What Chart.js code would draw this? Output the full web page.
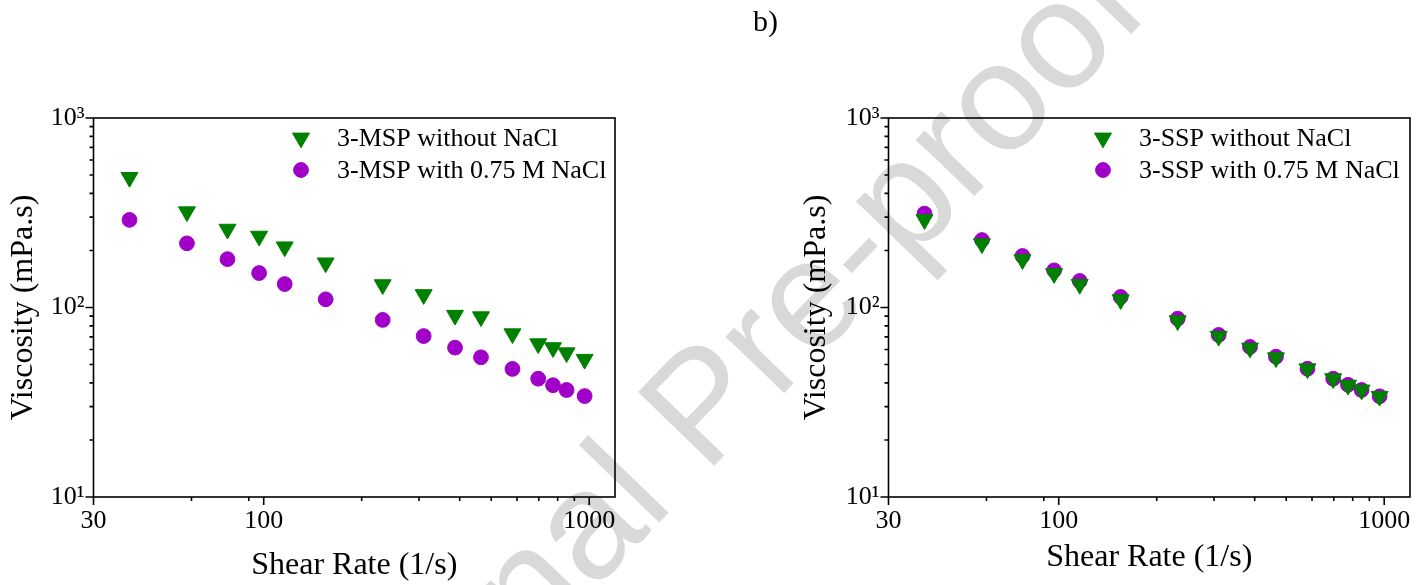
<!DOCTYPE html>
<html>
<head>
<meta charset="utf-8">
<title>Viscosity vs shear rate</title>
<script src="https://cdn.jsdelivr.net/npm/chart.js@4.4.0/dist/chart.umd.min.js"></script>
<style>
  html, body { margin: 0; padding: 0; background: #fff; }
  #page { position: relative; width: 1424px; height: 585px; overflow: hidden; }
  .stamp {
    position: absolute; left: 700px; top: 404px;
    transform: translate(-50%, -50%) rotate(-46deg);
    font: 154px 'Liberation Sans', Arial, sans-serif;
    color: #d9d9d9; white-space: nowrap; line-height: 1; z-index: 0;
  }
  .panel-tag {
    position: absolute; left: 753px; top: 6px;
    font: 30px 'Liberation Serif', 'Times New Roman', serif;
    line-height: 1; z-index: 2;
  }
  .panel { position: absolute; top: 0; width: 712px; height: 585px; z-index: 1; }
</style>
</head>
<body>
<div id="page">
  <div class="stamp">Journal Pre-proof</div>
  <div class="panel-tag">b)</div>
  <div class="panel" style="left:0"><canvas id="chartMSP" width="712" height="585"></canvas></div>
  <div class="panel" style="left:712px"><canvas id="chartSSP" width="712" height="585"></canvas></div>
</div>
<script>
// ── Data ──────────────────────────────────────────────
const SHEAR_RATE  = [38.7, 58.1, 77.4, 96.8, 116, 155, 232, 310, 387, 465, 581, 697, 774, 852, 968];

const MSP_NO_SALT = [486, 320, 259, 238, 209, 172, 132, 117, 91, 89.4, 72.7, 64.4, 61.4, 57.7, 53.3];
const MSP_SALT    = [290, 218, 180, 152, 133, 110.5, 86, 70.7, 61.4, 54.6, 47.4, 42.1, 38.9, 36.7, 34.1];

const SSP_NO_SALT = [291, 217, 179, 151, 132.5, 110, 85.2, 70.5, 61.1, 54.3, 47.5, 42.1, 38.9, 36.7, 34];
const SSP_SALT    = [313, 227, 187, 157, 138, 113.6, 87.3, 71.6, 61.9, 55, 47.5, 42.1, 39.1, 36.7, 34];

const X_TICKS   = [30, 60, 90, 100, 200, 300, 400, 500, 600, 700, 800, 900, 1000];
const X_LABELED = [30, 100, 1000];
const Y_TICKS   = [10, 20, 30, 40, 50, 60, 70, 80, 90, 100, 200, 300, 400, 500, 600, 700, 800, 900, 1000];
const Y_LABELS  = { 10: '10¹', 100: '10²', 1000: '10³' };

// ── Style ─────────────────────────────────────────────
const SERIF  = "'Liberation Serif', 'Times New Roman', serif";
const GREEN  = '#008000';
const PURPLE = '#a000c8';

Chart.defaults.font.family = SERIF;
Chart.defaults.color = '#000';

const toPts = (ys) => ys.map((v, i) => ({ x: SHEAR_RATE[i], y: v }));

// ── Plugins ───────────────────────────────────────────
// frame + outward tick marks (long on decades, short on the rest)
const frameTicks = {
  id: 'frameTicks',
  beforeDatasetsDraw(chart) {
    const { ctx, chartArea: a, scales: { x, y } } = chart;
    ctx.save();
    ctx.strokeStyle = '#000';
    ctx.lineWidth = 1.6;
    ctx.beginPath();
    x.ticks.forEach(t => {
      const px = x.getPixelForValue(t.value);
      const len = X_LABELED.includes(t.value) ? 8 : 4;
      ctx.moveTo(px, a.bottom);
      ctx.lineTo(px, a.bottom + len);
    });
    y.ticks.forEach(t => {
      const py = y.getPixelForValue(t.value);
      const len = Y_LABELS[t.value] ? 8 : 4;
      ctx.moveTo(a.left, py);
      ctx.lineTo(a.left - len, py);
    });
    ctx.stroke();
    ctx.strokeRect(a.left, a.top, a.right - a.left, a.bottom - a.top);
    ctx.restore();
  }
};

// legend drawn inside the plot box, top right
const boxLegend = {
  id: 'boxLegend',
  afterDatasetsDraw(chart, args, opts) {
    const ctx = chart.ctx;
    ctx.save();
    chart.data.datasets.forEach((ds, i) => {
      const yy = opts.rows[i];
      ctx.fillStyle = ds.backgroundColor;
      ctx.strokeStyle = ds.borderColor;
      ctx.lineWidth = ds.borderWidth;
      Chart.helpers.drawPoint(ctx, {
        pointStyle: ds.pointStyle,
        radius: ds.pointRadius,
        rotation: ds.pointRotation || 0,
        borderWidth: ds.borderWidth
      }, opts.markerX, yy);
      ctx.fillStyle = '#000';
      ctx.font = '26px ' + SERIF;
      ctx.textBaseline = 'middle';
      ctx.textAlign = 'left';
      ctx.fillText(ds.label, opts.textX, yy + 1);
    });
    ctx.restore();
  }
};

// ── Chart builder ─────────────────────────────────────
function buildPanel(canvasId, name, noSalt, withSalt, box) {
  const ctx = document.getElementById(canvasId).getContext('2d');
  return new Chart(ctx, {
    type: 'scatter',
    data: {
      datasets: [
        {
          label: name + ' without NaCl',
          data: toPts(noSalt),
          pointStyle: 'triangle',
          pointRotation: 180,
          pointRadius: 9.8,
          backgroundColor: GREEN,
          borderColor: GREEN,
          borderWidth: 1
        },
        {
          label: name + ' with 0.75 M NaCl',
          data: toPts(withSalt),
          pointStyle: 'circle',
          pointRadius: 7.4,
          backgroundColor: PURPLE,
          borderColor: PURPLE,
          borderWidth: 1
        }
      ]
    },
    options: {
      responsive: false,
      animation: false,
      devicePixelRatio: 1,
      layout: { padding: { top: 118, right: box.padRight, left: 0, bottom: 0 } },
      plugins: {
        legend:  { display: false },
        tooltip: { enabled: false },
        boxLegend: { markerX: box.markerX, textX: box.textX, rows: [138, 170] }
      },
      scales: {
        x: {
          type: 'logarithmic',
          min: 30,
          max: 1200,
          afterBuildTicks: (s) => { s.ticks = X_TICKS.map(v => ({ value: v })); },
          afterFit: (s) => { s.height = 88; },
          grid:   { display: false, drawTicks: false },
          border: { display: false },
          ticks: {
            autoSkip: false,
            maxRotation: 0,
            padding: 9,
            font: { size: 26 },
            callback: (v) => X_LABELED.includes(v) ? String(v) : ''
          },
          title: {
            display: true,
            text: 'Shear Rate (1/s)',
            font: { size: 32 },
            padding: { top: 0, bottom: box.xTitlePad }
          }
        },
        y: {
          type: 'logarithmic',
          min: 10,
          max: 1000,
          afterBuildTicks: (s) => { s.ticks = Y_TICKS.map(v => ({ value: v })); },
          afterFit: (s) => { s.width = box.yWidth; },
          grid:   { display: false, drawTicks: false },
          border: { display: false },
          ticks: {
            autoSkip: false,
            padding: 9,
            font: { size: 26 },
            callback: (v) => Y_LABELS[v] || ''
          },
          title: {
            display: true,
            text: 'Viscosity (mPa.s)',
            font: { size: 32 },
            padding: { top: box.yTitlePad, bottom: 0 }
          }
        }
      }
    },
    plugins: [frameTicks, boxLegend]
  });
}

buildPanel('chartMSP', '3-MSP', MSP_NO_SALT, MSP_SALT,
  { padRight: 97, yWidth: 93.5, yTitlePad: 4.8, xTitlePad: 0, markerX: 301, textX: 337 });

buildPanel('chartSSP', '3-SSP', SSP_NO_SALT, SSP_SALT,
  { padRight: 14, yWidth: 176.5, yTitlePad: 85.8, xTitlePad: 8, markerX: 391, textX: 427 });
</script>
</body>
</html>
